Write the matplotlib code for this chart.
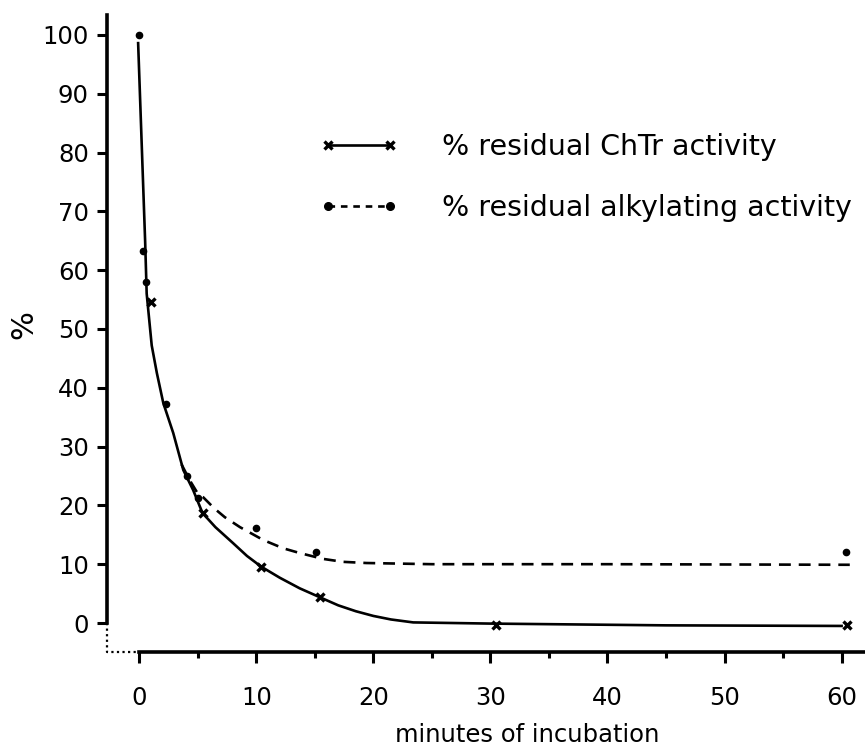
import matplotlib
matplotlib.use("Agg")
import matplotlib.pyplot as plt
from matplotlib.lines import Line2D

plt.rcParams['font.family'] = ['DejaVu Sans']

# measured data points
chtr_x = [1.0, 5.4, 10.4, 15.4, 30.5, 60.5]
chtr_y = [54.6, 18.7, 9.5, 4.4, -0.3, -0.3]
alk_x = [0.0, 0.3, 0.6, 2.3, 4.1, 5.0, 10.0, 15.1, 60.4]
alk_y = [100.0, 63.3, 58.0, 37.2, 25.0, 21.2, 16.2, 12.1, 12.0]

# hand-drawn fitted curves
chtr_curve_x = [-0.1, 0.5, 0.63, 1.06, 1.5, 2.05, 2.9, 3.76, 4.6, 5.4, 6.5, 8.0, 9.2, 10.4,
                12.0, 13.7, 15.4, 17.0, 18.5, 20.0, 21.5, 23.4, 30.0, 45.0, 60.0]
chtr_curve_y = [98.6, 64.8, 56.0, 47.2, 42.5, 37.4, 32.3, 26.0, 22.6, 18.7, 16.3, 13.6, 11.4, 9.6,
                7.7, 5.9, 4.4, 3.0, 2.0, 1.2, 0.6, 0.1, -0.1, -0.4, -0.5]
alk_curve_x = [3.6, 4.3, 5.0, 5.45, 6.4, 7.3, 8.6, 10.6, 12.3, 13.7, 15.7, 17.4, 19.4, 25.0,
               40.0, 60.7]
alk_curve_y = [27.0, 24.3, 22.0, 21.4, 19.5, 18.0, 16.3, 14.1, 12.7, 11.9, 10.9, 10.4, 10.2, 10.0,
               10.0, 9.9]

yticks = list(range(0, 101, 10))
xticks = list(range(0, 61, 10))
xminor = list(range(5, 60, 10))
legend_labels = ['% residual ChTr activity', '% residual alkylating activity']

fig = plt.figure(figsize=(8.65, 7.48), dpi=100)
ax = fig.add_axes([107 / 865, 96.3 / 748, 758 / 865, 636.8 / 748])

xmin, xmax = -2.76, 62.0
ymin, ymax = -4.88, 103.4
ax.set_xlim(xmin, xmax)
ax.set_ylim(ymin, ymax)

lw = 1.9
ax.plot(chtr_curve_x, chtr_curve_y, color='black', lw=lw, solid_joinstyle='round')
ax.plot(alk_curve_x, alk_curve_y, color='black', lw=lw, dashes=(4.5, 3))
ax.plot(chtr_x, chtr_y, ls='none', marker='x', color='black', ms=6, mew=2.4)
ax.plot(alk_x, alk_y, ls='none', marker='o', color='black', ms=4.5)

# spines
for s in ['top', 'right']:
    ax.spines[s].set_visible(False)
ax.spines['left'].set_linewidth(2.6)
ax.spines['bottom'].set_linewidth(2.6)
ax.spines['left'].set_bounds(0, ymax)
ax.spines['bottom'].set_bounds(0, xmax)
ax.plot([xmin, xmin, 0], [0, ymin, ymin], ls=(0, (1, 1.5)), color='black', lw=1.6,
        clip_on=False)

ax.set_yticks(yticks)
ax.set_yticklabels([str(v) for v in yticks])
ax.set_xticks(xticks)
ax.set_xticklabels([str(v) for v in xticks])
ax.set_xticks(xminor, minor=True)
ax.tick_params(axis='y', direction='out', length=7, width=2.2, pad=6, labelsize=17.5)
ax.tick_params(axis='x', which='major', direction='out', length=8, width=2.2, pad=17,
               labelsize=17.5)
ax.tick_params(axis='x', which='minor', direction='out', length=4.5, width=2.2)

ax.set_ylabel('%', fontsize=22)
ax.yaxis.set_label_coords(-0.09, 0.513)
ax.set_xlabel('minutes of incubation', fontsize=17.5, va='top')
ax.xaxis.set_label_coords(0.554, -0.112)

handles = [
    Line2D([], [], color='black', lw=lw, marker='x', ms=6, mew=2.4),
    Line2D([], [], color='black', lw=lw, dashes=(2.5, 2.2), marker='o', ms=5.5),
]
fs = 20.5
ax.legend(handles, legend_labels, loc='upper left', frameon=False,
          bbox_to_anchor=(319 / 865, 1 - 133 / 748), bbox_transform=fig.transFigure,
          borderpad=0, borderaxespad=0, handlelength=2.78, handletextpad=1.55,
          labelspacing=1.16, numpoints=2, fontsize=fs)

fig.savefig('out.png', dpi=100)
